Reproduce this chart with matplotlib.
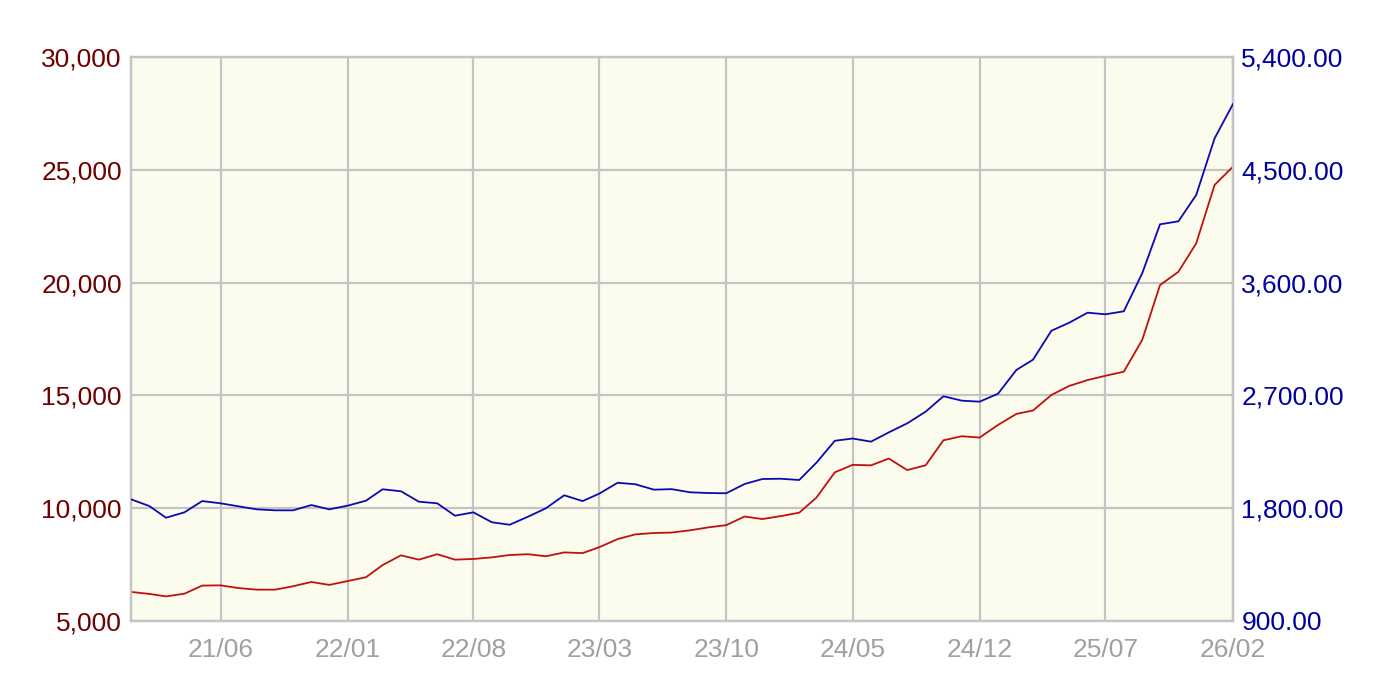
import matplotlib
matplotlib.use("Agg")
import matplotlib.pyplot as plt
import matplotlib.ticker as mticker
import pandas as pd

plt.rcParams['font.family'] = ['Liberation Sans', 'DejaVu Sans']

months = pd.date_range("2021-01-01", "2026-02-01", freq="MS")

red_values = [6290, 6200, 6090, 6210, 6570, 6580, 6460, 6390, 6390, 6540,
              6730, 6600, 6770, 6940, 7480, 7910, 7720, 7960, 7720, 7750,
              7820, 7925, 7960, 7870, 8040, 8010, 8270, 8630, 8840, 8900,
              8920, 9020, 9150, 9250, 9630, 9520, 9650, 9800, 10470, 11590,
              11920, 11900, 12200, 11690, 11900, 13010, 13190, 13130, 13690, 14180,
              14330, 15020, 15420, 15680, 15870, 16050, 17460, 19890, 20480, 21740,
              24330, 25140]

blue_values = [1871, 1817, 1724, 1767, 1857, 1839, 1815, 1791, 1783, 1783,
               1825, 1791, 1820, 1860, 1951, 1935, 1852, 1839, 1740, 1767,
               1688, 1668, 1732, 1799, 1903, 1857, 1916, 2003, 1991, 1948,
               1952, 1927, 1921, 1919, 1993, 2033, 2035, 2025, 2163, 2338,
               2356, 2331, 2405, 2477, 2570, 2693, 2658, 2650, 2713, 2903,
               2985, 3216, 3280, 3360, 3347, 3371, 3674, 4065, 4089, 4299,
               4751, 5025]

left_ticks = [5000, 10000, 15000, 20000, 25000, 30000]
right_ticks = [900, 1800, 2700, 3600, 4500, 5400]
x_tick_labels = ["21/06", "22/01", "22/08", "23/03", "23/10", "24/05", "24/12", "25/07", "26/02"]

x_tick_dates = [pd.Timestamp("20" + s[:2] + "-" + s[3:] + "-01") for s in x_tick_labels]

fig = plt.figure(figsize=(13.74, 7.0), dpi=100)
ax = fig.add_axes([131/1374, 1 - 621/700, (1233-131)/1374, (621-57)/700])
ax.set_facecolor("#FCFCEE")
ax2 = ax.twinx()

ax.plot(months, red_values, color="#C01010", lw=1.3, zorder=3)
ax2.plot(months, blue_values, color="#0A0AB4", lw=1.3, zorder=3)

ax.set_xlim(months[0], months[-1])
ax.set_ylim(5000, 30000)
ax2.set_ylim(900, 5400)

ax.set_yticks(left_ticks)
ax2.set_yticks(right_ticks)
ax.yaxis.set_major_formatter(mticker.FuncFormatter(lambda v, p: f"{v:,.0f}"))
ax2.yaxis.set_major_formatter(mticker.FuncFormatter(lambda v, p: f"{v:,.2f}"))

ax.set_xticks(x_tick_dates)
ax.set_xticklabels(x_tick_labels)

ax.grid(True, color="#C4C4C4", lw=1.6, zorder=1)
ax.set_axisbelow(True)

for a in (ax, ax2):
    for s in a.spines.values():
        s.set_color("#C4C4C4")
        s.set_linewidth(1.6)

ax.tick_params(axis="y", length=0, pad=6.5, labelsize=19, labelcolor="#6E0000")
ax2.tick_params(axis="y", length=0, pad=6, labelsize=19, labelcolor="#0000A0")
ax.tick_params(axis="x", length=0, pad=12, labelsize=19, labelcolor="#A0A0A0")

fig.savefig("out.png", dpi=100, facecolor="white")
